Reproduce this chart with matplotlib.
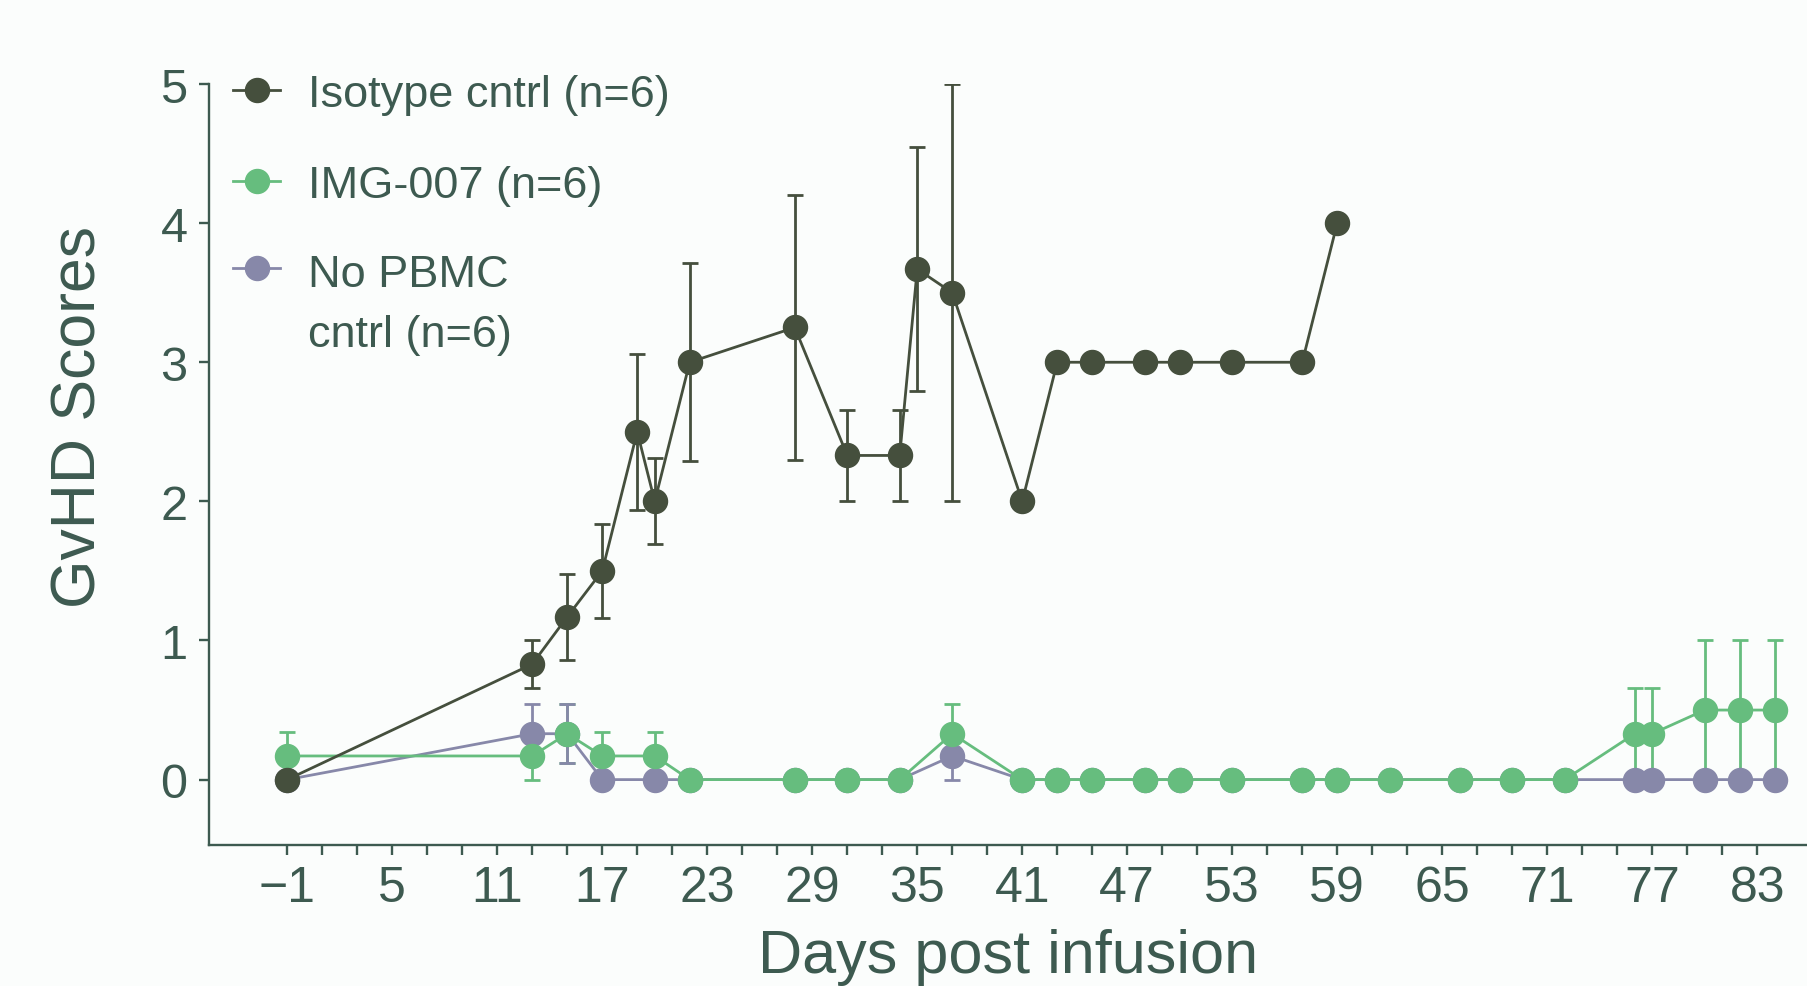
import matplotlib
matplotlib.use('Agg')
import matplotlib.pyplot as plt
from matplotlib.lines import Line2D

# Isotype control
iso_days = [-1, 13, 15, 17, 19, 20, 22, 28, 31, 34, 35, 37, 41, 43, 45, 48, 50, 53, 57, 59]
iso_mean = [0, 0.83, 1.17, 1.5, 2.5, 2.0, 3.0, 3.25, 2.33, 2.33, 3.67, 3.5, 2.0, 3, 3, 3, 3, 3, 3, 4]
iso_err = [0, 0.17, 0.31, 0.34, 0.56, 0.31, 0.71, 0.95, 0.33, 0.33, 0.88, 1.5, 0, 0, 0, 0, 0, 0, 0, 0]

# IMG-007 and No PBMC share the same days
grp_days = [-1, 13, 15, 17, 20, 22, 28, 31, 34, 37, 41, 43, 45, 48, 50, 53, 57, 59,
            62, 66, 69, 72, 76, 77, 80, 82, 84]
img_mean = [0.17, 0.17, 0.33, 0.17, 0.17, 0, 0, 0, 0, 0.33, 0, 0, 0, 0, 0, 0, 0, 0,
            0, 0, 0, 0, 0.33, 0.33, 0.5, 0.5, 0.5]
img_err = [0.17, 0.17, 0.21, 0.17, 0.17, 0, 0, 0, 0, 0.21, 0, 0, 0, 0, 0, 0, 0, 0,
           0, 0, 0, 0, 0.33, 0.33, 0.5, 0.5, 0.5]
pbmc_mean = [0, 0.33, 0.33, 0, 0, 0, 0, 0, 0, 0.17, 0, 0, 0, 0, 0, 0, 0, 0,
             0, 0, 0, 0, 0, 0, 0, 0, 0]
pbmc_err = [0, 0.21, 0.21, 0, 0, 0, 0, 0, 0, 0.17, 0, 0, 0, 0, 0, 0, 0, 0,
            0, 0, 0, 0, 0, 0, 0, 0, 0]

labels = ['Isotype cntrl (n=6)', 'IMG-007 (n=6)', 'No PBMC', 'cntrl (n=6)']
x_ticklabels_days = list(range(-1, 84, 6))

c_iso = '#454f3d'
c_img = '#66bd7e'
c_pbmc = '#8788a9'
c_text = '#3d5a50'
bg = '#fbfdfc'

plt.rcParams['font.family'] = ['Liberation Sans', 'DejaVu Sans']

W, H = 1808, 987
fig = plt.figure(figsize=(W / 100, H / 100), dpi=100, facecolor=bg)
ax = fig.add_axes([209 / W, (H - 846) / H, (W - 209) / W, (846 - 85) / H])
ax.set_facecolor(bg)

ms = 17.3
lw = 2.0
cap = 6

# error bars and lines, layered like the original
ax.errorbar(grp_days, img_mean, yerr=img_err, fmt='none', ecolor=c_img,
            elinewidth=lw, capsize=cap, capthick=lw, zorder=2.0)
ax.errorbar(grp_days, pbmc_mean, yerr=pbmc_err, fmt='none', ecolor=c_pbmc,
            elinewidth=lw, capsize=cap, capthick=lw, zorder=2.01)
ax.plot(grp_days, pbmc_mean, color=c_pbmc, lw=lw, marker='o', ms=ms, zorder=2.1)
ax.plot(grp_days, img_mean, color=c_img, lw=lw, marker='o', ms=ms, zorder=2.2)
ax.errorbar(iso_days, iso_mean, yerr=iso_err, fmt='none', ecolor=c_iso,
            elinewidth=lw, capsize=cap, capthick=lw, zorder=2.3)
ax.plot(iso_days, iso_mean, color=c_iso, lw=lw, marker='o', ms=ms, zorder=2.4)

ax.set_xlim(-5.47, 85.9)
ax.set_ylim(-0.47, 5)

for s in ['top', 'right']:
    ax.spines[s].set_visible(False)
for s in ['left', 'bottom']:
    ax.spines[s].set_color(c_text)
    ax.spines[s].set_linewidth(1.7)
ax.spines['left'].set_bounds(-0.47, 5)

ax.set_yticks(range(0, 6))
ax.set_xticks(x_ticklabels_days)
ax.set_xticks(range(-1, 84, 2), minor=True)
ax.tick_params(axis='both', which='both', colors=c_text, width=1.7, length=7.5)
ax.tick_params(axis='x', which='both', labelsize=36, pad=7)
ax.tick_params(axis='y', labelsize=35, pad=8)
for lab in ax.get_xticklabels() + ax.get_yticklabels():
    lab.set_color(c_text)


def px(x, y):
    # figure pixel (from top-left) to figure fraction
    return x / W, (H - y) / H


# axis titles
fig.text(*px(96, 416.5), 'GvHD Scores', rotation=90, rotation_mode='anchor',
         ha='center', va='baseline', fontsize=45, color=c_text)
fig.text(*px(1008, 973), 'Days post infusion', ha='center', va='baseline',
         fontsize=44, color=c_text)

# legend drawn by hand so the wrapped label keeps its handle on the first line
rows = [90.6, 181.7, 269.3]
for yy, col in zip(rows, [c_iso, c_img, c_pbmc]):
    x0, y0 = px(233.5, yy)
    x1, _ = px(280.5, yy)
    xm, _ = px(257, yy)
    fig.add_artist(Line2D([x0, x1], [y0, y0], color=col, lw=lw,
                          transform=fig.transFigure))
    fig.add_artist(Line2D([xm], [y0], color=col, marker='o', ms=ms,
                          transform=fig.transFigure))
baselines = [rows[0] + 16.5, rows[1] + 16.5, rows[2] + 17.4, rows[2] + 77.4]
for yy, txt in zip(baselines, labels):
    fig.text(*px(308, yy), txt, ha='left', va='baseline', fontsize=32.5, color=c_text)

fig.savefig('out.png', dpi=100, facecolor=bg)
